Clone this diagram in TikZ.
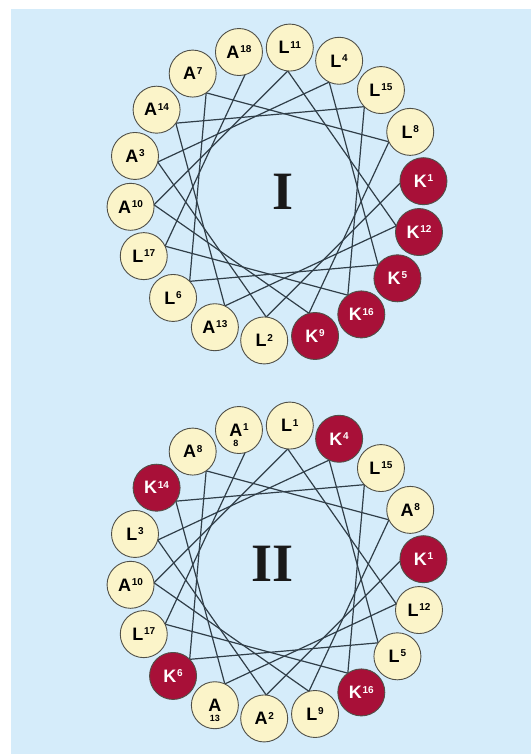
\documentclass[tikz,border=0pt]{standalone}
\usepackage{fontspec}
\setmainfont{Liberation Sans}
\newfontfamily\romfont{Liberation Serif}
\usetikzlibrary{calc}
\definecolor{bgblue}{RGB}{213,236,250}
\definecolor{cream}{RGB}{251,244,201}
\definecolor{crim}{RGB}{168,16,56}
\definecolor{rim}{RGB}{80,80,72}
\definecolor{lnc}{RGB}{48,62,72}
\newcommand\rs[1]{\hspace{0.8pt}\raisebox{5.6pt}{\fontsize{10}{10}\selectfont #1}}
\newcommand\lowlab[2]{\setbox0\hbox{#1}\rlap{\hbox to \wd0{\hss\raisebox{-10pt}[0pt][0pt]{\fontsize{9}{9}\selectfont #2}\hss}}\box0}
\tikzset{
  res/.style={circle, minimum size=47pt, inner sep=0pt, draw=rim, line width=0.9pt,
              font=\fontsize{18}{18}\selectfont\bfseries},
  conn/.style={draw=lnc, line width=1.2pt},
  numeral/.style={font=\romfont\bfseries\fontsize{54}{54}\selectfont, text=black!90},
}
\begin{document}
\begin{tikzpicture}[x=1pt,y=-1pt]
\useasboundingbox (0,0) rectangle (531,754);
\fill[white] (0,0) rectangle (531,754);
\fill[bgblue] (11,9) rectangle (531,754);
\coordinate (cI) at (277,194);
\coordinate (cII) at (277,572);
% inner end points of the connectors
\foreach \n in {1,...,18}{
  \coordinate (iI-\n) at ($(cI)+({-5+100*(\n-1)}:123.5)$);
  \coordinate (iII-\n) at ($(cII)+({-5+100*(\n-1)}:123.5)$);
}
\foreach \n [evaluate=\n as \m using int(\n+1)] in {1,...,17}{
  \draw[conn] (iI-\n) -- (iI-\m);
  \draw[conn] (iII-\n) -- (iII-\m);
}
% wheel I
\foreach \n/\lab/\fc/\tc in {
  1/K\rs{1}/crim/white, 2/L\rs{2}/cream/black, 3/A\rs{3}/cream/black,
  4/L\rs{4}/cream/black, 5/K\rs{5}/crim/white, 6/L\rs{6}/cream/black,
  7/A\rs{7}/cream/black, 8/L\rs{8}/cream/black, 9/K\rs{9}/crim/white,
  10/A\rs{10}/cream/black, 11/L\rs{11}/cream/black, 12/K\rs{12}/crim/white,
  13/A\rs{13}/cream/black, 14/A\rs{14}/cream/black, 15/L\rs{15}/cream/black,
  16/K\rs{16}/crim/white, 17/L\rs{17}/cream/black, 18/A\rs{18}/cream/black}{
  \node[res, fill=\fc, text=\tc] (rI-\n) at ($(cI)+({-5+100*(\n-1)}:147)$) {\lab};
}
% wheel II
\foreach \n/\lab/\fc/\tc in {
  1/K\rs{1}/crim/white, 2/A\rs{2}/cream/black, 3/L\rs{3}/cream/black,
  4/K\rs{4}/crim/white, 5/L\rs{5}/cream/black, 6/K\rs{6}/crim/white,
  7/A\rs{8}/cream/black, 8/A\rs{8}/cream/black, 9/L\rs{9}/cream/black,
  10/A\rs{10}/cream/black, 11/L\rs{1}/cream/black, 12/L\rs{12}/cream/black,
  13/\lowlab{A}{13}/cream/black, 14/K\rs{14}/crim/white, 15/L\rs{15}/cream/black,
  16/K\rs{16}/crim/white, 17/L\rs{17}/cream/black, 18/\lowlab{A}{8}\rs{1}/cream/black}{
  \node[res, fill=\fc, text=\tc] (rII-\n) at ($(cII)+({-5+100*(\n-1)}:147)$) {\lab};
}
\node[numeral] (tI) at (283,192) {I};
\node[numeral] (tII) at (273,564) {II};
\end{tikzpicture}
\end{document}
